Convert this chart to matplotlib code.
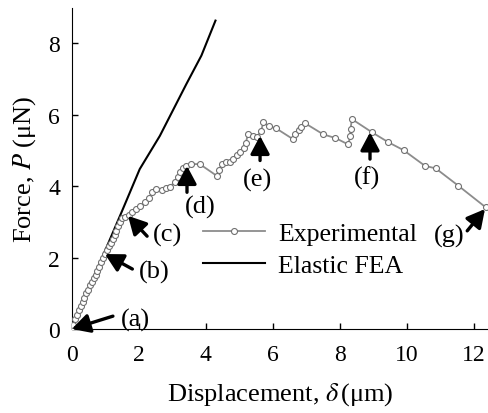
import numpy as np
import matplotlib
matplotlib.use('Agg')
import matplotlib.pyplot as plt

# ---------- Data ----------
x_exp = [0, 0.05, 0.1, 0.17, 0.22, 0.28, 0.33, 0.38, 0.44, 0.5, 0.55, 0.6, 0.66, 0.72, 0.77,
         0.82, 0.88, 0.93, 0.98, 1.04, 1.1, 1.16, 1.22, 1.28, 1.33, 1.38, 1.43, 1.5, 1.6, 1.7,
         1.81, 1.93, 2.05, 2.18, 2.30, 2.41, 2.53, 2.68, 2.81, 2.93, 3.07, 3.17, 3.22, 3.32,
         3.42, 3.55, 3.82, 4.33, 4.39, 4.49, 4.61, 4.72, 4.81, 4.93, 5.03, 5.13, 5.19, 5.26,
         5.40, 5.52, 5.65, 5.72, 5.88, 6.10, 6.60, 6.65, 6.79, 6.85, 6.97, 7.51, 7.87, 8.25,
         8.31, 8.32, 8.36, 8.96, 9.45, 9.90, 10.54, 10.86, 11.54, 12.35]
y_exp = [0, 0.1, 0.28, 0.4, 0.52, 0.65, 0.76, 0.88, 1.0, 1.1, 1.22, 1.33, 1.42, 1.52, 1.62,
         1.75, 1.88, 2.0, 2.1, 2.22, 2.32, 2.42, 2.52, 2.62, 2.75, 2.88, 3.0, 3.1, 3.15, 3.18,
         3.27, 3.36, 3.44, 3.55, 3.66, 3.83, 3.92, 3.90, 3.94, 3.99, 4.11, 4.25, 4.39, 4.50,
         4.57, 4.62, 4.62, 4.29, 4.46, 4.62, 4.69, 4.67, 4.76, 4.87, 4.97, 5.06, 5.20, 5.46,
         5.41, 5.37, 5.55, 5.79, 5.68, 5.62, 5.32, 5.46, 5.58, 5.65, 5.76, 5.45, 5.35, 5.17,
         5.40, 5.61, 5.88, 5.51, 5.23, 5.01, 4.57, 4.50, 4.01, 3.41]

x_fea = [0, 0.5, 1.0, 1.5, 2.03, 2.63, 3.42, 3.87, 4.29]
y_fea = [0, 1.1, 2.2, 3.3, 4.48, 5.41, 6.86, 7.66, 8.64]

# labels (a)-(g): text position, arrow tail, arrow tip
labels = ['(a)', '(b)', '(c)', '(d)', '(e)', '(f)', '(g)']
text_xy = [(1.9, 0.28), (2.45, 1.6), (2.87, 2.66), (3.85, 3.42), (5.55, 4.2), (8.8, 4.25), (11.26, 2.61)]
tail_xy = [(1.23, 0.36), (1.81, 1.68), (2.25, 2.6), (3.44, 3.83), (5.62, 4.72), (8.9, 4.76), (11.8, 2.75)]
tip_xy = [(0.0, 0.0), (0.99, 2.1), (1.68, 3.17), (3.44, 4.57), (5.62, 5.41), (8.9, 5.51), (12.33, 3.36)]

# ---------- Style ----------
plt.rcParams['font.family'] = ['Liberation Serif', 'DejaVu Serif']
plt.rcParams['mathtext.fontset'] = 'stix'

fig = plt.figure(figsize=(4.89, 4.14), dpi=100)
ax = fig.add_axes([0.1466, 0.2029, 0.8534, 0.776])

ax.plot(x_exp, y_exp, color='#8c8c8c', lw=1.3, marker='o', ms=4.3,
        mfc='white', mec='#707070', mew=0.8, label='Experimental', zorder=3)
ax.plot(x_fea, y_fea, color='black', lw=1.5, label='Elastic FEA', zorder=2)

for lab, t, a, b in zip(labels, text_xy, tail_xy, tip_xy):
    ax.annotate('', xy=b, xytext=a,
                arrowprops=dict(arrowstyle='-|>,head_length=0.6,head_width=0.32',
                                lw=2.4, color='black', shrinkA=0, shrinkB=0,
                                mutation_scale=18),
                zorder=4)
    ax.text(t[0], t[1], lab, ha='center', va='center', fontsize=19)

ax.set_xlim(0, 12.45)
ax.set_ylim(0, 9)
ax.set_xticks([0, 2, 4, 6, 8, 10, 12])
ax.set_yticks([0, 2, 4, 6, 8])
ax.tick_params(direction='in', length=4, width=1, labelsize=17)
ax.tick_params(axis='x', pad=11)
ax.tick_params(axis='y', pad=8.5)
ax.spines['top'].set_visible(False)
ax.spines['right'].set_visible(False)

ax.set_xlabel(r'Displacement, $\delta\,$(μm)', fontsize=19, labelpad=11)
ax.set_ylabel(r'Force, $P$ (μN)', fontsize=19, labelpad=7.5)

ax.legend(loc='upper left', bbox_to_anchor=(0.285, 0.372), frameon=False,
          borderpad=0, handlelength=2.4, handletextpad=0.5, labelspacing=0.35,
          fontsize=18.5)

fig.savefig('out.png', dpi=100)
